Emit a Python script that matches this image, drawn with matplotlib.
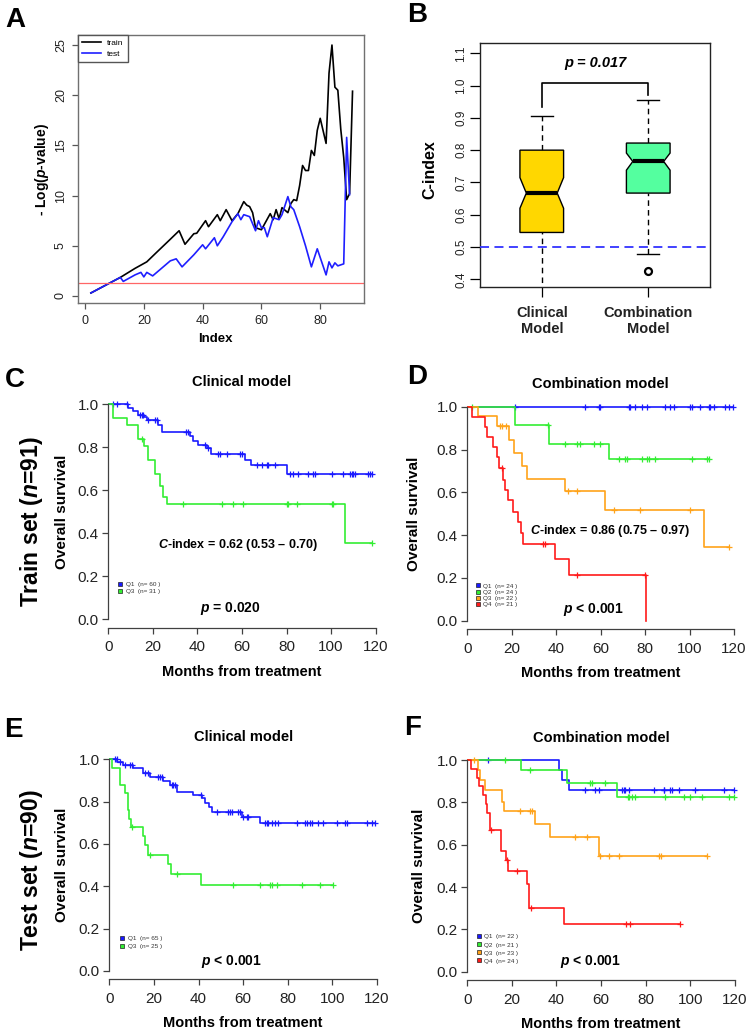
import matplotlib.pyplot as plt
import numpy as np
from matplotlib.lines import Line2D
from matplotlib.patches import Polygon
from matplotlib.ticker import FormatStrFormatter

plt.rcParams['font.family'] = ['Liberation Sans', 'DejaVu Sans']
plt.rcParams['mathtext.fontset'] = 'custom'
plt.rcParams['mathtext.it'] = 'Liberation Sans:italic:bold'
plt.rcParams['mathtext.rm'] = 'Liberation Sans:bold'
plt.rcParams['mathtext.bf'] = 'Liberation Sans:bold'

W, H = 750, 1035

# ---- panel A: -log(p-value) along the index
train_idx = [2, 12, 17, 21, 24, 29, 32, 34, 37, 38, 41, 42, 45, 46, 48, 50, 52, 54, 55, 56,
             57, 58, 60, 63, 64, 65, 66, 67, 69, 70, 71, 72, 73, 74, 75, 76, 77, 78, 79, 80,
             82, 83, 84, 85, 86, 87, 88, 89, 90, 91]
train_val = [0.3, 1.85, 2.75, 3.4, 4.25, 5.65, 6.5, 5.15, 6.2, 6.25, 7.5, 6.9, 8.1, 7.5, 8.6,
             7.5, 8.2, 9.4, 9.05, 8.9, 8.3, 6.8, 6.6, 8.2, 7.6, 8.6, 7.7, 8.8, 8.3, 9.2, 9.6,
             9.5, 11.0, 13.0, 12.5, 12.5, 14.5, 14.0, 16.5, 17.7, 15.2, 22.2, 25.0, 20.8, 20.5,
             16.6, 13.8, 9.6, 10.2, 20.4]
test_idx = [2, 12, 13, 17, 19, 20, 21, 23, 29, 31, 33, 37, 40, 41, 44, 45, 47, 50, 52, 53, 54,
            56, 58, 59, 60, 61, 62, 64, 66, 67, 69, 70, 71, 73, 75, 77, 79, 82, 83, 84, 85, 86,
            88, 89, 90]
test_val = [0.3, 1.85, 1.45, 2.1, 2.35, 1.9, 2.35, 2.0, 3.5, 3.7, 2.9, 4.1, 5.1, 4.7, 5.8, 5.0,
            5.9, 7.4, 8.2, 7.6, 8.1, 7.9, 6.5, 7.5, 6.8, 6.8, 5.9, 7.8, 7.6, 8.1, 9.9, 8.9, 8.6,
            6.9, 5.0, 2.9, 4.7, 2.1, 3.4, 2.8, 3.3, 3.0, 3.2, 15.8, 10.1]
p_cut = 1.3

# ---- panel B: C-index boxplots
box_names = ['Clinical\nModel', 'Combination\nModel']
box_q1 = [0.545, 0.667]
box_med = [0.667, 0.765]
box_q3 = [0.800, 0.822]
box_notch_lo = [0.620, 0.738]
box_notch_hi = [0.715, 0.791]
box_whislo = [0.33, 0.477]
box_whishi = [0.905, 0.955]
box_fliers = [[], [0.425]]
box_colors = ['#ffd700', '#54ff9f']

# ---- KM curves: drop times, survival after each drop, censoring times
c_q1_drops = [9.0, 11.2, 13.5, 16.2, 17.2, 22.4, 24.2, 36.7, 38.2, 40.4, 44.1, 46.1, 61.3, 64.0, 80.0]
c_q1_levels = [0.983, 0.967, 0.952, 0.940, 0.929, 0.905, 0.873, 0.851, 0.831, 0.812, 0.797,
               0.769, 0.743, 0.720, 0.678]
c_q1_cens = [2.2, 3.7, 8.2, 14.2, 15.0, 15.7, 18.0, 20.9, 21.7, 34.9, 35.6, 43.4, 44.9, 49.4,
             50.1, 53.1, 59.1, 59.8, 66.6, 68.8, 71.1, 71.8, 74.8, 81.5, 83.0, 85.3, 89.8, 92.0,
             92.8, 100.2, 105.5, 108.5, 109.2, 110.0, 110.7, 116.7, 117.4, 118.2]
c_q3_drops = [2.2, 8.2, 13.5, 16.2, 18.0, 21.0, 23.0, 24.5, 26.5, 106.2]
c_q3_levels = [0.935, 0.903, 0.840, 0.806, 0.742, 0.677, 0.620, 0.570, 0.535, 0.357]
c_q3_cens = [15.0, 33.7, 50.9, 56.1, 60.6, 80.0, 80.8, 84.5, 100.2, 101.0, 118.2]

d_q1_drops = []
d_q1_levels = []
d_q1_cens = [21.3, 53.1, 59.1, 59.9, 72.6, 73.4, 75.6, 78.6, 80.9, 89.1, 91.4, 92.9, 100.4,
             101.1, 104.9, 108.6, 109.4, 110.9, 116.1, 117.6, 119.5]
d_q2_drops = [21.3, 36.9, 63.6]
d_q2_levels = [0.914, 0.824, 0.757]
d_q2_cens = [2.1, 36.3, 44.1, 49.4, 50.9, 56.9, 59.9, 68.1, 71.1, 71.9, 78.6, 80.9, 81.6, 84.6,
             101.0, 107.9, 108.6]
d_q3_drops = [5.0, 13.4, 18.6, 20.9, 24.6, 26.9, 43.8, 62.1, 106.4]
d_q3_levels = [0.955, 0.910, 0.845, 0.785, 0.725, 0.662, 0.607, 0.517, 0.345]
d_q3_cens = [14.5, 15.5, 17.5, 45.3, 49.4, 65.9, 77.9, 100.4, 117.6]
d_q4_drops = [2.0, 8.0, 9.0, 11.7, 13.2, 14.2, 16.2, 16.8, 18.4, 20.4, 23.0, 24.0, 25.0, 39.4,
              45.9, 80.4]
d_q4_levels = [0.953, 0.907, 0.860, 0.813, 0.766, 0.712, 0.657, 0.610, 0.564, 0.509, 0.460,
               0.410, 0.357, 0.287, 0.213, 0.0]
d_q4_cens = [15.4, 34.2, 34.8, 49.2, 79.9]

e_q1_drops = [3.5, 6.3, 10.8, 15.3, 18.2, 24.2, 27.2, 30.2, 37.7, 41.5, 43.0, 44.5, 45.9, 59.4, 67.6]
e_q1_levels = [0.987, 0.975, 0.959, 0.937, 0.916, 0.896, 0.877, 0.846, 0.833, 0.815, 0.795,
               0.775, 0.751, 0.727, 0.700]
e_q1_cens = [2.6, 3.3, 4.8, 7.0, 9.3, 10.0, 16.0, 17.5, 22.0, 22.7, 23.5, 27.9, 28.7, 29.5,
             41.0, 48.1, 53.4, 54.1, 54.9, 57.9, 58.6, 60.1, 61.6, 62.3, 69.8, 70.6, 71.3, 72.8,
             74.3, 75.8, 84.0, 87.8, 88.5, 90.0, 90.7, 93.7, 95.9, 101.9, 105.7, 106.4, 115.4,
             117.7, 119.1]
e_q3_drops = [1.1, 4.8, 7.0, 8.2, 8.8, 9.7, 15.3, 16.0, 17.5, 26.5, 27.7, 41.1]
e_q3_levels = [0.960, 0.880, 0.840, 0.760, 0.720, 0.680, 0.640, 0.594, 0.550, 0.507, 0.460, 0.408]
e_q3_cens = [10.0, 18.3, 30.2, 55.6, 67.6, 72.1, 72.8, 75.0, 86.3, 94.5, 100.5]

f_q1_drops = [41.0, 42.5, 45.8]
f_q1_levels = [0.953, 0.905, 0.857]
f_q1_cens = [9.3, 53.0, 57.4, 58.9, 69.4, 70.1, 70.9, 72.4, 83.6, 88.1, 88.4, 91.1, 91.8, 94.8,
             102.3, 115.0, 119.5]
f_q2_drops = [24.2, 44.7, 67.2]
f_q2_levels = [0.951, 0.893, 0.825]
f_q2_cens = [17.1, 28.3, 55.2, 55.9, 61.9, 71.9, 72.4, 73.9, 75.4, 88.8, 97.1, 100.1, 105.3,
             117.3, 119.5]
f_q3_drops = [4.8, 5.9, 8.1, 15.6, 16.3, 30.5, 37.3, 59.2]
f_q3_levels = [0.951, 0.904, 0.857, 0.800, 0.757, 0.699, 0.636, 0.545]
f_q3_cens = [2.9, 23.8, 28.3, 29.0, 48.5, 53.7, 59.7, 63.4, 67.9, 85.8, 86.9, 107.5]
f_q4_drops = [1.5, 4.2, 5.2, 6.9, 8.4, 9.0, 10.2, 15.0, 17.3, 18.4, 26.9, 27.7, 43.5]
f_q4_levels = [0.958, 0.917, 0.875, 0.833, 0.792, 0.750, 0.667, 0.572, 0.528, 0.477, 0.414,
               0.300, 0.224]
f_q4_cens = [10.5, 18.0, 22.4, 28.8, 71.4, 73.2, 95.4]

BLUE, GREEN, ORANGE, RED = '#1a1aff', '#33ee33', '#ffa31a', '#ff1a1a'


def px_axes(fig, left, top, right, bottom):
    return fig.add_axes([left / W, 1 - bottom / H, (right - left) / W, (bottom - top) / H])


def fig_text(fig, x, y, s, **kw):
    fig.text(x / W, 1 - y / H, s, **kw)


def km_axes(fig, x0, y1, y0, pxm, ylab_x, title):
    ps = y0 - y1
    ax = px_axes(fig, x0, y1 - 0.04 * ps, x0 + 124 * pxm, y0 + 0.04 * ps)
    ax.set_xlim(0, 124)
    ax.set_ylim(-0.04, 1.04)
    for s in ('top', 'right'):
        ax.spines[s].set_visible(False)
    for s in ('left', 'bottom'):
        ax.spines[s].set_color('#404040')
        ax.spines[s].set_linewidth(0.9)
    ax.spines['left'].set_bounds(0, 1)
    ax.spines['bottom'].set_bounds(0, 120)
    ax.set_xticks(np.arange(0, 121, 20))
    ax.set_yticks(np.arange(0, 1.01, 0.2))
    ax.yaxis.set_major_formatter(FormatStrFormatter('%.1f'))
    ax.tick_params(direction='out', length=4, width=0.9, color='#404040',
                   labelsize=11, labelcolor='#222222')
    ax.tick_params(axis='x', pad=5)
    ax.tick_params(axis='y', pad=3)
    ax.text(60, 1.105, title, fontsize=10.5, fontweight='bold', ha='center', va='center')
    ax.text(ylab_x, 0.5, 'Overall survival', fontsize=11, fontweight='bold', rotation=90,
            ha='center', va='center')
    ax.text(60, -0.245, 'Months from treatment', fontsize=10.5, fontweight='bold',
            ha='center', va='center')
    return ax


def km_curve(ax, drops, levels, cens, color):
    t = np.concatenate([[0.0], drops])
    s = np.concatenate([[1.0], levels])
    end = max(max(cens), t[-1])
    ax.step(np.append(t, end), np.append(s, s[-1]), where='post', color=color, lw=1.2)
    cs = s[np.searchsorted(t, cens, side='right') - 1]
    ax.plot(cens, cs, '+', color=color, ms=5, mew=0.9)


def km_legend(ax, x, y, labels, colors, spacing):
    handles = [Line2D([], [], ls='none', marker='s', ms=3.4, mfc=c, mec='#222222', mew=0.5)
               for c in colors]
    ax.legend(handles, labels, loc='upper left', bbox_to_anchor=(x, y),
              bbox_transform=ax.transData, frameon=False, fontsize=4.6,
              handlelength=0.6, handletextpad=0.6, labelspacing=spacing,
              borderpad=0, borderaxespad=0, labelcolor='#333333')


fig = plt.figure(figsize=(W / 100, H / 100), dpi=100)

# ---------------- A
axA = px_axes(fig, 78, 35, 364, 303)
axA.plot(train_idx, train_val, color='black', lw=1.2, label='train')
axA.plot(test_idx, test_val, color='#1f1fff', lw=1.2, label='test')
axA.axhline(p_cut, color='#ff6666', lw=0.9)
axA.set_xlim(-2.4, 94.9)
axA.set_ylim(-0.7, 26.0)
axA.set_xticks([0, 20, 40, 60, 80])
axA.set_yticks([0, 5, 10, 15, 20, 25])
for s in axA.spines.values():
    s.set_color('#707070')
    s.set_linewidth(1.0)
axA.tick_params(direction='out', length=4, width=0.9, color='#555555', labelsize=9,
                labelcolor='#222222')
axA.tick_params(axis='x', pad=5)
axA.tick_params(axis='y', pad=4)
for lab in axA.get_yticklabels():
    lab.set_rotation(90)
    lab.set_va('center')
axA.legend(loc='upper left', bbox_to_anchor=(0, 1), borderaxespad=0, fontsize=6,
           fancybox=False, edgecolor='#555555', framealpha=1, handlelength=2.2,
           borderpad=0.5, labelspacing=0.35)
fig_text(fig, 215, 339, 'Index', fontsize=9.5, fontweight='bold', ha='center', va='center')
fig_text(fig, 42, 170, r'- Log($\mathit{p}$-value)', fontsize=10, fontweight='bold',
         rotation=90, ha='center', va='center')

# ---------------- B
axB = px_axes(fig, 480, 43, 710, 287)
axB.set_xlim(0.42, 2.58)
axB.set_ylim(0.376, 1.132)
w, nw = 0.41, 0.29
for x, q1, md, q3, lo, hi, wl, wh, fl, c in zip([1, 2], box_q1, box_med, box_q3, box_notch_lo,
                                                box_notch_hi, box_whislo, box_whishi,
                                                box_fliers, box_colors):
    axB.plot([x, x], [q3, wh], color='black', lw=1, ls=(0, (4, 3)))
    axB.plot([x, x], [wl, q1], color='black', lw=1, ls=(0, (4, 3)))
    axB.plot([x - w / 4, x + w / 4], [wh, wh], color='black', lw=1)
    axB.plot([x - w / 4, x + w / 4], [wl, wl], color='black', lw=1)
    poly = [(x - w / 2, q1), (x + w / 2, q1), (x + w / 2, lo), (x + nw / 2, md),
            (x + w / 2, hi), (x + w / 2, q3), (x - w / 2, q3), (x - w / 2, hi),
            (x - nw / 2, md), (x - w / 2, lo)]
    axB.add_patch(Polygon(poly, closed=True, fc=c, ec='black', lw=1, zorder=3))
    axB.plot([x - nw / 2, x + nw / 2], [md, md], color='black', lw=3,
             solid_capstyle='butt', zorder=4)
    if fl:
        axB.plot([x] * len(fl), fl, 'o', mfc='none', mec='black', ms=5, mew=1.6)
axB.axhline(0.5, color='#3333ff', lw=1.3, ls=(0, (5, 3)), zorder=5)
axB.plot([1, 1, 2, 2], [0.935, 1.009, 1.009, 0.971], color='black', lw=1.2)
axB.text(1.5, 1.069, 'p = 0.017', fontsize=10.5, fontweight='bold', fontstyle='italic',
         ha='center', va='center')
axB.set_xticks([1, 2])
axB.set_yticks(np.arange(0.4, 1.11, 0.1))
axB.yaxis.set_major_formatter(FormatStrFormatter('%.1f'))
axB.tick_params(direction='out', length=7, width=0.9, labelsize=8.5, labelcolor='#222222')
axB.tick_params(axis='x', pad=7)
axB.tick_params(axis='y', pad=2)
axB.set_xticklabels(box_names, fontsize=10.5, fontweight='bold', linespacing=1.1)
for lab in axB.get_yticklabels():
    lab.set_rotation(90)
    lab.set_va('center')
for s in axB.spines.values():
    s.set_linewidth(1.0)
    s.set_color('#222222')
fig_text(fig, 430, 170, 'C-index', fontsize=11.5, fontweight='bold', rotation=90,
         ha='center', va='center')

# ---------------- C
axC = km_axes(fig, 108.3, 404.3, 619.3, 2.228, -21, 'Clinical model')
km_curve(axC, c_q1_drops, c_q1_levels, c_q1_cens, BLUE)
km_curve(axC, c_q3_drops, c_q3_levels, c_q3_cens, GREEN)
axC.text(58.2, 0.346, r'$\mathit{C}$-index = 0.62 (0.53 – 0.70)', fontsize=9,
         fontweight='bold', ha='center', va='center')
axC.text(54.6, 0.051, r'$\mathit{p}$ = 0.020', fontsize=10, fontweight='bold',
         ha='center', va='center')
km_legend(axC, 4.5, 0.175, ['Q1  (n= 60 )', 'Q3  (n= 31 )'], [BLUE, GREEN], 0.2)

# ---------------- D
axD = km_axes(fig, 467.3, 406.7, 620.7, 2.222, -24, 'Combination model')
km_curve(axD, d_q1_drops, d_q1_levels, d_q1_cens, BLUE)
km_curve(axD, d_q2_drops, d_q2_levels, d_q2_cens, GREEN)
km_curve(axD, d_q3_drops, d_q3_levels, d_q3_cens, ORANGE)
km_curve(axD, d_q4_drops, d_q4_levels, d_q4_cens, RED)
axD.text(64.2, 0.42, r'$\mathit{C}$-index = 0.86 (0.75 – 0.97)', fontsize=9,
         fontweight='bold', ha='center', va='center')
axD.text(56.7, 0.05, r'$\mathit{p}$ < 0.001', fontsize=10, fontweight='bold',
         ha='center', va='center')
km_legend(axD, 3.8, 0.175, ['Q1  (n= 24 )', 'Q2  (n= 24 )', 'Q3  (n= 22 )', 'Q4  (n= 21 )'],
          [BLUE, GREEN, ORANGE, RED], 0.1)

# ---------------- E
axE = km_axes(fig, 109.3, 759.3, 971.0, 2.23, -21, 'Clinical model')
km_curve(axE, e_q1_drops, e_q1_levels, e_q1_cens, BLUE)
km_curve(axE, e_q3_drops, e_q3_levels, e_q3_cens, GREEN)
axE.text(54.8, 0.047, r'$\mathit{p}$ < 0.001', fontsize=10, fontweight='bold',
         ha='center', va='center')
km_legend(axE, 4.8, 0.166, ['Q1  (n= 65 )', 'Q3  (n= 25 )'], [BLUE, GREEN], 0.35)

# ---------------- F
axF = km_axes(fig, 467.3, 760.0, 971.7, 2.229, -21.8, 'Combination model')
km_curve(axF, f_q1_drops, f_q1_levels, f_q1_cens, BLUE)
km_curve(axF, f_q2_drops, f_q2_levels, f_q2_cens, GREEN)
km_curve(axF, f_q3_drops, f_q3_levels, f_q3_cens, ORANGE)
km_curve(axF, f_q4_drops, f_q4_levels, f_q4_cens, RED)
axF.text(55.3, 0.05, r'$\mathit{p}$ < 0.001', fontsize=10, fontweight='bold',
         ha='center', va='center')
km_legend(axF, 4.2, 0.178, ['Q1  (n= 22 )', 'Q2  (n= 21 )', 'Q3  (n= 23 )', 'Q4  (n= 24 )'],
          [BLUE, GREEN, ORANGE, RED], 0.4)

# ---------------- side labels and panel letters
fig_text(fig, 31.7, 521.7, r'Train set ($\mathit{n}$=91)', fontsize=16.5, fontweight='bold',
         rotation=90, ha='center', va='center')
fig_text(fig, 31.7, 870, r'Test set ($\mathit{n}$=90)', fontsize=16.5, fontweight='bold',
         rotation=90, ha='center', va='center')
for letter, x, y in [('A', 15, 20), ('B', 416.7, 15), ('C', 15, 380), ('D', 416.7, 376.7),
                     ('E', 13, 730), ('F', 413, 728)]:
    fig_text(fig, x, y, letter, fontsize=20, fontweight='bold', ha='center', va='center')

fig.savefig('out.png', dpi=100, facecolor='white')
